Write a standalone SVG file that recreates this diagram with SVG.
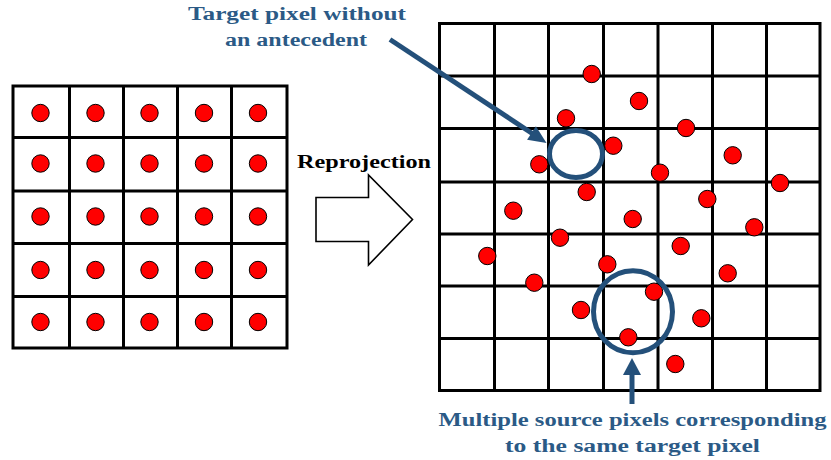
<svg xmlns="http://www.w3.org/2000/svg" width="831" height="460" viewBox="0 0 831 460">
<style>
.grid{fill:none;stroke:#000;stroke-width:3;stroke-linecap:square}
.dot{fill:#ff0000;stroke:#000;stroke-width:1}
.ring{fill:none;stroke:#24507a;stroke-width:5}
.conn{stroke:#24507a;stroke-width:5;fill:none}
.head{fill:#24507a}
.lbl{font-family:"Liberation Serif","DejaVu Serif",serif;font-weight:bold;font-size:18px;fill:#2b5a86;text-anchor:middle}
.big{font-family:"Liberation Serif","DejaVu Serif",serif;font-weight:bold;font-size:18px;fill:#000;text-anchor:middle}
</style>
<rect width="831" height="460" fill="#fff"/>
<g id="source-grid">
<path class="grid" d="M13,86V348M69.5,86V348M123.5,86V348M177.5,86V348M231.5,86V348M287,86V348M13,86H287M13,137.5H287M13,191H287M13,243.5H287M13,296.5H287M13,348H287"/>
<g>
<circle class="dot" cx="40.5" cy="113" r="8.7"/><circle class="dot" cx="95.5" cy="113" r="8.7"/><circle class="dot" cx="149.5" cy="113" r="8.7"/><circle class="dot" cx="204" cy="113" r="8.7"/><circle class="dot" cx="258" cy="113" r="8.7"/>
<circle class="dot" cx="40.5" cy="163.5" r="8.7"/><circle class="dot" cx="95.5" cy="163.5" r="8.7"/><circle class="dot" cx="149.5" cy="163.5" r="8.7"/><circle class="dot" cx="204" cy="163.5" r="8.7"/><circle class="dot" cx="258" cy="163.5" r="8.7"/>
<circle class="dot" cx="40.5" cy="216.5" r="8.7"/><circle class="dot" cx="95.5" cy="216.5" r="8.7"/><circle class="dot" cx="149.5" cy="216.5" r="8.7"/><circle class="dot" cx="204" cy="216.5" r="8.7"/><circle class="dot" cx="258" cy="216.5" r="8.7"/>
<circle class="dot" cx="40.5" cy="270" r="8.7"/><circle class="dot" cx="95.5" cy="270" r="8.7"/><circle class="dot" cx="149.5" cy="270" r="8.7"/><circle class="dot" cx="204" cy="270" r="8.7"/><circle class="dot" cx="258" cy="270" r="8.7"/>
<circle class="dot" cx="40.5" cy="322" r="8.7"/><circle class="dot" cx="95.5" cy="322" r="8.7"/><circle class="dot" cx="149.5" cy="322" r="8.7"/><circle class="dot" cx="204" cy="322" r="8.7"/><circle class="dot" cx="258" cy="322" r="8.7"/>
</g>
</g>
<g id="reprojection">
<text class="big" x="364" y="168" textLength="134" lengthAdjust="spacingAndGlyphs">Reprojection</text>
<polygon points="316,197.5 368.5,197.5 368.5,175 412.5,219.5 368.5,265 368.5,241.5 316,241.5" fill="#fff" stroke="#000" stroke-width="1.6" stroke-linejoin="miter"/>
</g>
<g id="target-grid">
<path class="grid" d="M439.5,23.5V390.5M494.5,23.5V390.5M548.5,23.5V390.5M603.5,23.5V390.5M658,23.5V390.5M712.5,23.5V390.5M766.5,23.5V390.5M820,23.5V390.5M439.5,23.5H820M439.5,76H820M439.5,128.5H820M439.5,182H820M439.5,234H820M439.5,286H820M439.5,338.5H820M439.5,390.5H820"/>
<g>
<circle class="dot" cx="591.7" cy="74" r="8.7"/>
<circle class="dot" cx="639" cy="101" r="8.7"/>
<circle class="dot" cx="566" cy="118.3" r="8.7"/>
<circle class="dot" cx="686" cy="128" r="8.7"/>
<circle class="dot" cx="613.3" cy="145.7" r="8.7"/>
<circle class="dot" cx="539.3" cy="164.3" r="8.7"/>
<circle class="dot" cx="660" cy="172.7" r="8.7"/>
<circle class="dot" cx="732.7" cy="155.3" r="8.7"/>
<circle class="dot" cx="780" cy="183" r="8.7"/>
<circle class="dot" cx="586.7" cy="192" r="8.7"/>
<circle class="dot" cx="707.3" cy="199" r="8.7"/>
<circle class="dot" cx="513.3" cy="210.7" r="8.7"/>
<circle class="dot" cx="632.7" cy="219" r="8.7"/>
<circle class="dot" cx="754.3" cy="227.3" r="8.7"/>
<circle class="dot" cx="560" cy="237.7" r="8.7"/>
<circle class="dot" cx="680.7" cy="246" r="8.7"/>
<circle class="dot" cx="487.3" cy="256" r="8.7"/>
<circle class="dot" cx="607.3" cy="264.3" r="8.7"/>
<circle class="dot" cx="727.7" cy="273.3" r="8.7"/>
<circle class="dot" cx="534.3" cy="282.7" r="8.7"/>
<circle class="dot" cx="654" cy="291.7" r="8.7"/>
<circle class="dot" cx="581" cy="310" r="8.7"/>
<circle class="dot" cx="701.3" cy="318.3" r="8.7"/>
<circle class="dot" cx="628.3" cy="337.3" r="8.7"/>
<circle class="dot" cx="675.3" cy="364" r="8.7"/>
</g>
</g>
<g id="empty-target-highlight">
<ellipse class="ring" cx="576" cy="154" rx="26.5" ry="23.5"/>
</g>
<g id="multi-source-highlight">
<ellipse class="ring" cx="633" cy="311.7" rx="39.5" ry="41"/>
</g>
<g id="label-no-antecedent">
<text class="lbl" x="297" y="20" textLength="218" lengthAdjust="spacingAndGlyphs">Target pixel without</text>
<text class="lbl" x="296" y="46" textLength="142" lengthAdjust="spacingAndGlyphs">an antecedent</text>
</g>
<g id="label-multiple-sources">
<text class="lbl" x="632.5" y="426" textLength="388" lengthAdjust="spacingAndGlyphs">Multiple source pixels corresponding</text>
<text class="lbl" x="632.5" y="451.5" textLength="255" lengthAdjust="spacingAndGlyphs">to the same target pixel</text>
</g>
<g id="connectors">
<line class="conn" x1="390" y1="39.5" x2="533" y2="134"/>
<polygon class="head" points="546.5,143 535.9,126.3 527.1,139.7"/>
<line class="conn" x1="632" y1="404" x2="632" y2="372"/>
<polygon class="head" points="632,358 623,375 641,375"/>
</g>
</svg>
